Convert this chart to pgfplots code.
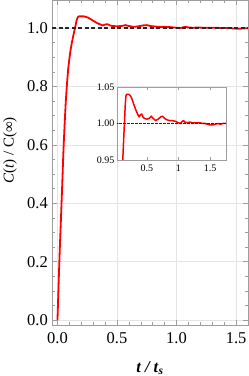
\documentclass[border=0pt]{standalone}
\usepackage{pgfplots}
\pgfplotsset{compat=1.18}
\usepackage{pgfplotstable}
\usepackage{fontspec}
\setmainfont{Liberation Serif}

\pgfplotstableread{
t c
0.000 0.000
0.010 0.130
0.020 0.250
0.030 0.355
0.040 0.465
0.050 0.580
0.060 0.670
0.070 0.750
0.080 0.810
0.090 0.860
0.100 0.895
0.110 0.925
0.120 0.948
0.130 0.968
0.140 0.987
0.150 1.005
0.160 1.025
0.170 1.037
0.180 1.040
0.200 1.040
0.220 1.040
0.240 1.038
0.260 1.035
0.280 1.030
0.300 1.025
0.320 1.020
0.340 1.016
0.360 1.012
0.380 1.009
0.400 1.012
0.420 1.013
0.440 1.009
0.460 1.007
0.500 1.006
0.540 1.007
0.570 1.010
0.600 1.007
0.640 1.004
0.680 1.006
0.720 1.009
0.750 1.010
0.780 1.007
0.820 1.005
0.860 1.004
0.900 1.004
0.950 1.003
1.000 1.001
1.030 1.000
1.060 1.003
1.080 1.004
1.100 1.002
1.140 1.001
1.180 1.002
1.220 1.001
1.260 1.001
1.300 1.001
1.340 1.001
1.380 1.000
1.420 1.000
1.460 0.999
1.500 0.998
1.540 0.998
1.580 0.999
1.620 1.000
1.660 0.999
1.700 1.000
1.750 1.000
}\datatable

\definecolor{frame}{gray}{0.62}
\definecolor{gridc}{gray}{0.90}

\begin{document}
\begin{tikzpicture}
\begin{axis}[
  at={(0,0)}, anchor=south west,
  scale only axis, width=196pt, height=325pt,
  xmin=-0.046, xmax=1.6, ymin=-0.017, ymax=1.096,
  xtick={0,0.5,1,1.5}, ytick={0,0.2,0.4,0.6,0.8,1.0},
  minor x tick num=4, minor y tick num=3,
  tick align=inside, major tick length=5pt, minor tick length=3pt,
  axis line style={frame, line width=0.6pt},
  every tick/.style={frame, line width=0.5pt},
  grid=major, major grid style={gridc, line width=0.5pt},
  /pgf/number format/assume math mode=true,
  /pgf/number format/fixed, /pgf/number format/fixed zerofill, /pgf/number format/precision=1,
  tick label style={font=\fontsize{16.5}{19}\selectfont},
  xticklabel style={anchor=base, inner sep=0pt, yshift=-18pt},
  yticklabel style={anchor=east, inner sep=0pt, xshift=-4pt},
  every axis x label/.style={at={(axis description cs:0.5,0)}, anchor=base, yshift=-47pt, font=\fontsize{16.5}{19}\selectfont},
  every axis y label/.style={at={(axis description cs:0,0.5)}, xshift=-42pt, yshift=12pt, rotate=90, anchor=center, font=\fontsize{15}{18}\selectfont},
  xlabel={\textbf{\textit{t / t}\textsubscript{\textit{s}}}},
  ylabel={\textit{C}(\textit{t}) / C(∞)},
]
\addplot[red, line width=1.8pt, no markers, line join=round] table[x=t, y=c] {\datatable};
\addplot[black!85, line width=1.1pt, dash pattern=on 4pt off 2.5pt, no markers] coordinates {(-0.1,1) (1.7,1)};
\end{axis}
\begin{axis}[
  at={(65pt,165pt)}, anchor=south west,
  scale only axis, width=109pt, height=73pt,
  xmin=0.03, xmax=1.75, ymin=0.95, ymax=1.05,
  xtick={0.5,1,1.5}, xticklabels={0.5,1,1.5},
  ytick={0.95,1.0,1.05}, yticklabels={0.95,1.00,1.05},
  tick align=inside, major tick length=3pt,
  axis line style={frame, line width=0.6pt},
  every tick/.style={frame, line width=0.5pt},
  tick label style={font=\fontsize{10}{12}\selectfont},
  xticklabel style={anchor=north, inner sep=0pt, yshift=-5pt},
  yticklabel style={anchor=east, inner sep=0pt, xshift=-2.5pt},
  clip=true,
]
\addplot[red, line width=1.5pt, no markers, line join=round] table[x=t, y=c] {\datatable};
\addplot[black!85, line width=0.7pt, dash pattern=on 2.5pt off 1.5pt, no markers] coordinates {(0,1) (1.8,1)};
\end{axis}
\pgfresetboundingbox
\path (-52pt,-51pt) rectangle (197pt,325pt);
\end{tikzpicture}
\end{document}
